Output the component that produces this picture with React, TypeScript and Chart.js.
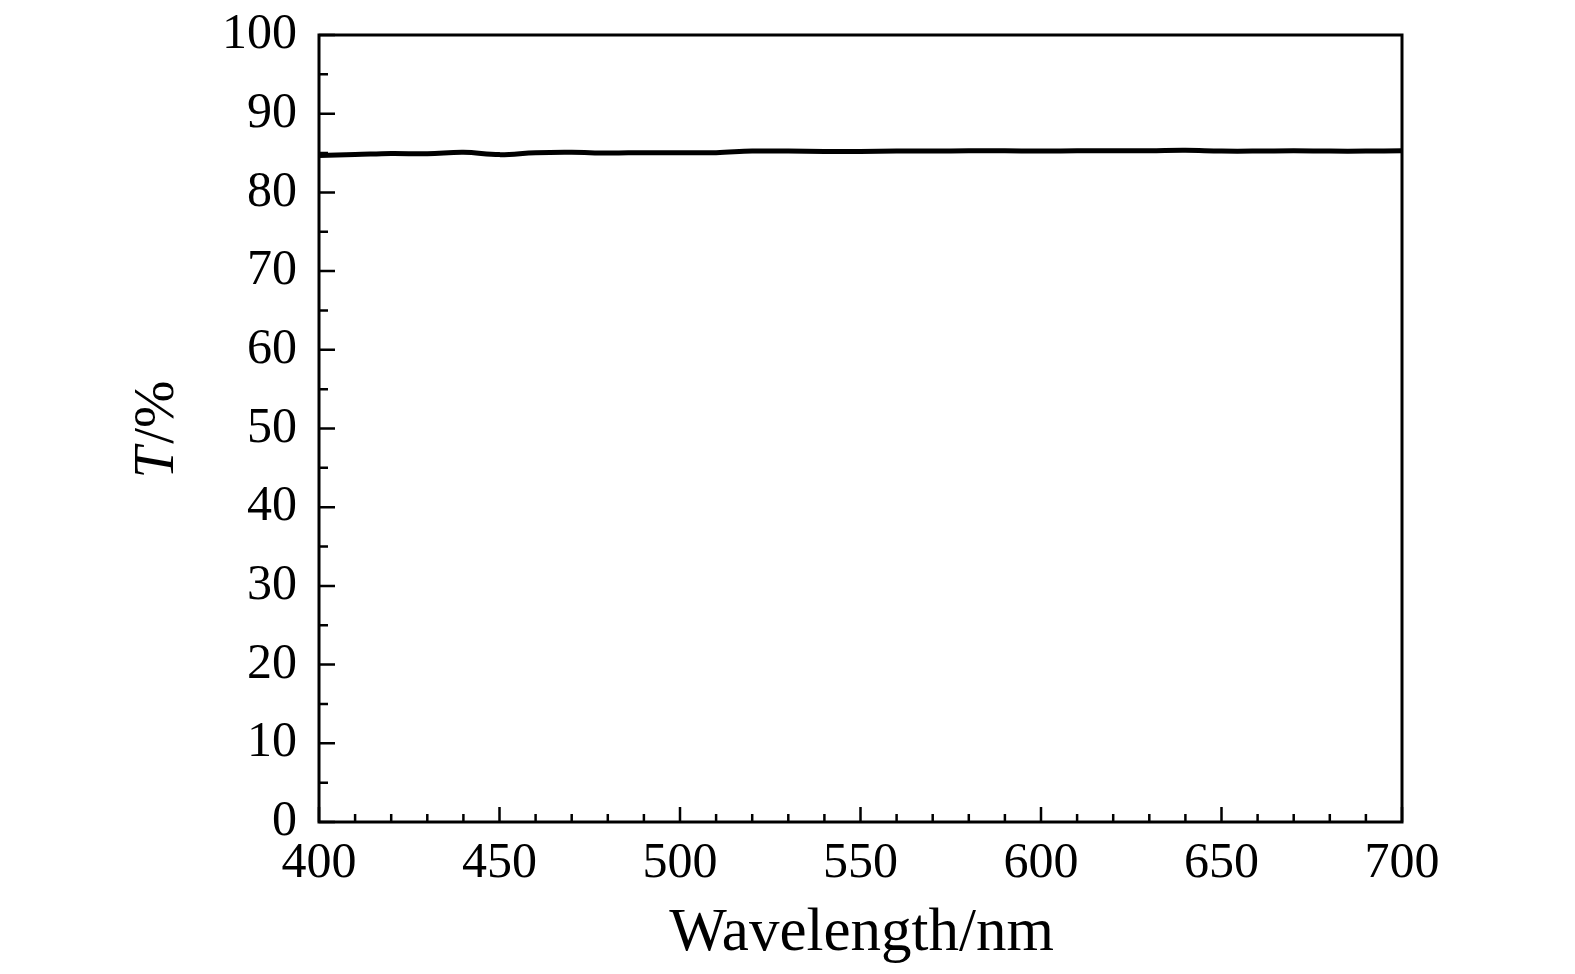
import React, { useEffect, useRef } from "react";
import { Chart, registerables } from "chart.js";

Chart.register(...registerables);

const wavelengths = [400, 410, 420, 430, 440, 450, 460, 470, 480, 490, 500, 510, 520, 530, 540, 550, 560, 570, 580, 590, 600, 610, 620, 630, 640, 650, 660, 670, 680, 690, 700];
const transmittance = [84.7, 84.8, 84.95, 84.9, 85.1, 84.8, 85.05, 85.1, 85.0, 85.05, 85.05, 85.05, 85.25, 85.25, 85.2, 85.2, 85.25, 85.25, 85.3, 85.3, 85.25, 85.3, 85.3, 85.3, 85.35, 85.25, 85.25, 85.3, 85.25, 85.25, 85.3];

const xTitle = "Wavelength/nm";
const yTitleItalic = "T";
const yTitleRest = "/%";
const FONT = "'Liberation Serif', 'Times New Roman', serif";

const framePlugin = {
  id: "frame",
  afterDraw(chart: any) {
    const { ctx, chartArea: a, scales } = chart;
    const xs = scales.x;
    const ys = scales.y;
    ctx.save();
    ctx.strokeStyle = "#000";
    ctx.lineWidth = 3;
    ctx.strokeRect(a.left, a.top, a.right - a.left, a.bottom - a.top);
    ctx.lineWidth = 2.5;
    ctx.beginPath();
    for (let v = xs.min; v <= xs.max + 0.001; v += 10) {
      const px = xs.getPixelForValue(v);
      const len = Math.round(v) % 50 === 0 ? 15 : 8;
      ctx.moveTo(px, a.bottom);
      ctx.lineTo(px, a.bottom - len);
    }
    for (let v = ys.min; v <= ys.max + 0.001; v += 5) {
      const py = ys.getPixelForValue(v);
      const len = Math.round(v) % 10 === 0 ? 16 : 9;
      ctx.moveTo(a.left, py);
      ctx.lineTo(a.left + len, py);
    }
    ctx.stroke();

    ctx.fillStyle = "#000";
    ctx.textAlign = "center";
    ctx.textBaseline = "middle";
    ctx.font = `61px ${FONT}`;
    ctx.fillText(xTitle, (a.left + a.right) / 2 + 1, 934);

    ctx.translate(158, (a.top + a.bottom) / 2 + 1);
    ctx.rotate(-Math.PI / 2);
    ctx.font = `italic 57px ${FONT}`;
    const w1 = ctx.measureText(yTitleItalic).width;
    ctx.font = `57px ${FONT}`;
    const w2 = ctx.measureText(yTitleRest).width;
    const start = -(w1 + w2 + 3) / 2;
    ctx.textAlign = "left";
    ctx.font = `italic 57px ${FONT}`;
    ctx.fillText(yTitleItalic, start, 0);
    ctx.font = `57px ${FONT}`;
    ctx.fillText(yTitleRest, start + w1 + 3, 0);
    ctx.restore();
  },
};

export default function App() {
  const ref = useRef<HTMLCanvasElement | null>(null);
  useEffect(() => {
    if (!ref.current) return;
    const chart = new Chart(ref.current, {
      type: "line",
      data: {
        datasets: [
          {
            data: wavelengths.map((w, i) => ({ x: w, y: transmittance[i] })),
            borderColor: "#000",
            borderWidth: 5,
            pointRadius: 0,
            tension: 0.4,
            fill: false,
          },
        ],
      },
      options: {
        animation: false,
        responsive: true,
        maintainAspectRatio: false,
        devicePixelRatio: 1,
        layout: { padding: { top: 35, right: 173, left: 0, bottom: 0 } },
        plugins: { legend: { display: false }, tooltip: { enabled: false } },
        scales: {
          x: {
            type: "linear",
            min: 400,
            max: 700,
            afterFit: (s: any) => { s.height = 152; s.paddingLeft = 0; s.paddingRight = 0; },
            grid: { display: false, drawTicks: false },
            border: { display: false },
            ticks: { stepSize: 50, color: "#000", padding: 12, maxRotation: 0, font: { family: FONT, size: 50 } },
          },
          y: {
            min: 0,
            max: 100,
            afterFit: (s: any) => { s.width = 319; s.paddingTop = 0; s.paddingBottom = 0; },
            grid: { display: false, drawTicks: false },
            border: { display: false },
            ticks: { stepSize: 10, color: "#000", padding: 22, font: { family: FONT, size: 50 } },
          },
        },
      },
      plugins: [framePlugin],
    });
    return () => chart.destroy();
  }, []);
  return (
    <div style={{ position: "absolute", left: 0, top: 0, width: 1575, height: 974, background: "#fff" }}>
      <canvas ref={ref} />
    </div>
  );
}
